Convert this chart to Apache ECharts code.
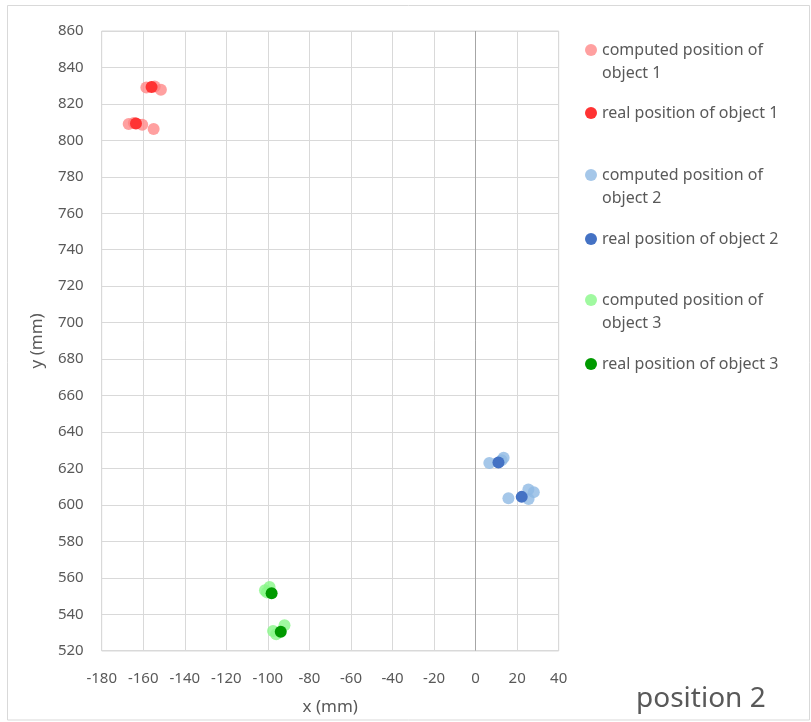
<!DOCTYPE html>
<html>
<head>
<meta charset="utf-8">
<style>
  html, body { margin: 0; padding: 0; background: #fff; }
  #chart { width: 811px; height: 722px; }
</style>
<script src="https://cdn.jsdelivr.net/npm/echarts@6/dist/echarts.min.js"></script>
</head>
<body>
<div id="chart"></div>
<script>
// Measured positions (mm)
const computed1X = [-158.5, -154.5, -151.5, -167.0, -160.5, -155.0, -164.5];
const computed1Y = [829.0, 829.5, 827.8, 809.0, 808.5, 806.2, 809.5];
const real1X = [-156.0, -163.5];
const real1Y = [829.3, 809.2];

const computed2X = [6.6, 12.5, 13.5, 15.8, 25.4, 28.0, 25.5];
const computed2Y = [623.0, 624.5, 625.8, 603.6, 608.5, 607.0, 603.2];
const real2X = [11.0, 22.2];
const real2Y = [623.3, 604.4];

const computed3X = [-101.4, -99.2, -97.5, -96.0, -92.0, -100.5];
const computed3Y = [553.2, 555.0, 530.8, 529.0, 534.0, 552.0];
const real3X = [-98.2, -93.8];
const real3Y = [551.5, 530.4];

const seriesNames = [
  'computed position of\nobject 1',
  'real position of object 1',
  'computed position of\nobject 2',
  'real position of object 2',
  'computed position of\nobject 3',
  'real position of object 3'
];

const TEXT = '#595959';
const FONT = '"Noto Sans", "Open Sans", sans-serif';

function pairs(xs, ys) {
  return xs.map((x, i) => [x, ys[i]]);
}

const seriesDefs = [
  { data: pairs(computed1X, computed1Y), color: '#FF8080', opacity: 0.75 },
  { data: pairs(real1X, real1Y), color: '#FF3333', opacity: 1 },
  { data: pairs(computed2X, computed2Y), color: '#8FB9E3', opacity: 0.8 },
  { data: pairs(real2X, real2Y), color: '#4472C4', opacity: 1 },
  { data: pairs(computed3X, computed3Y), color: '#88F888', opacity: 0.8 },
  { data: pairs(real3X, real3Y), color: '#009A00', opacity: 1 }
];

const series = seriesDefs.map((d, i) => ({
  name: seriesNames[i],
  type: 'scatter',
  symbol: 'circle',
  symbolSize: 12,
  data: d.data,
  itemStyle: { color: d.color, opacity: d.opacity },
  z: i + 2
}));

// Darker vertical reference line at x = 0
series[0].markLine = {
  silent: true,
  symbol: 'none',
  label: { show: false },
  lineStyle: { color: '#A6A6A6', width: 1, type: 'solid' },
  data: [{ xAxis: 0 }]
};

// First-line centre of each legend entry; the marker sits beside the first line
const legendLineY = [50, 113, 175, 239, 300, 364];
const legends = seriesNames.map((name, i) => {
  const twoLine = name.indexOf('\n') >= 0;
  return {
    data: [name],
    left: 585,
    top: twoLine ? legendLineY[i] - 34.5 : legendLineY[i] - 11.5,
    padding: 0,
    icon: 'circle',
    itemWidth: 12,
    itemHeight: 12,
    selectedMode: false,
    // a blank leading line keeps the first text line centred on the marker
    formatter: (n) => (twoLine ? ' \n' + n : n),
    textStyle: {
      color: TEXT,
      fontFamily: FONT,
      fontSize: 16,
      lineHeight: 23
    }
  };
});

const chart = echarts.init(document.getElementById('chart'), null, { renderer: 'canvas' });
chart.setOption({
  animation: false,
  backgroundColor: '#ffffff',
  grid: { left: 101.7, top: 31, right: 252.3, bottom: 71.3, containLabel: false },
  xAxis: {
    type: 'value',
    min: -180, max: 40, interval: 20,
    name: 'x (mm)',
    nameLocation: 'middle',
    nameGap: 48,
    nameTextStyle: { color: TEXT, fontFamily: FONT, fontSize: 17 },
    axisLine: { show: false },
    axisTick: { show: false },
    axisLabel: { color: TEXT, fontFamily: FONT, fontSize: 15, margin: 21 },
    splitLine: { show: true, lineStyle: { color: '#D9D9D9', width: 1 } }
  },
  yAxis: {
    type: 'value',
    min: 520, max: 860, interval: 20,
    name: 'y (mm)',
    nameLocation: 'middle',
    nameGap: 56,
    nameRotate: 90,
    nameTextStyle: { color: TEXT, fontFamily: FONT, fontSize: 17 },
    axisLine: { show: false },
    axisTick: { show: false },
    axisLabel: { color: TEXT, fontFamily: FONT, fontSize: 15, margin: 18 },
    splitLine: { show: true, lineStyle: { color: '#D9D9D9', width: 1 } }
  },
  legend: legends,
  graphic: [
    {
      type: 'rect',
      shape: { x: 7.5, y: 5.5, width: 802, height: 714.5 },
      style: { fill: 'none', stroke: '#D9D9D9', lineWidth: 1 },
      silent: true
    },
    {
      type: 'rect',
      shape: { x: 101.7, y: 31, width: 457, height: 620 },
      style: { fill: 'none', stroke: '#D9D9D9', lineWidth: 1 },
      silent: true
    },
    {
      type: 'text',
      left: 636,
      top: 685,
      style: { text: 'position 2', fill: TEXT, font: '28px ' + FONT }
    }
  ],
  series: series
});
</script>
</body>
</html>
